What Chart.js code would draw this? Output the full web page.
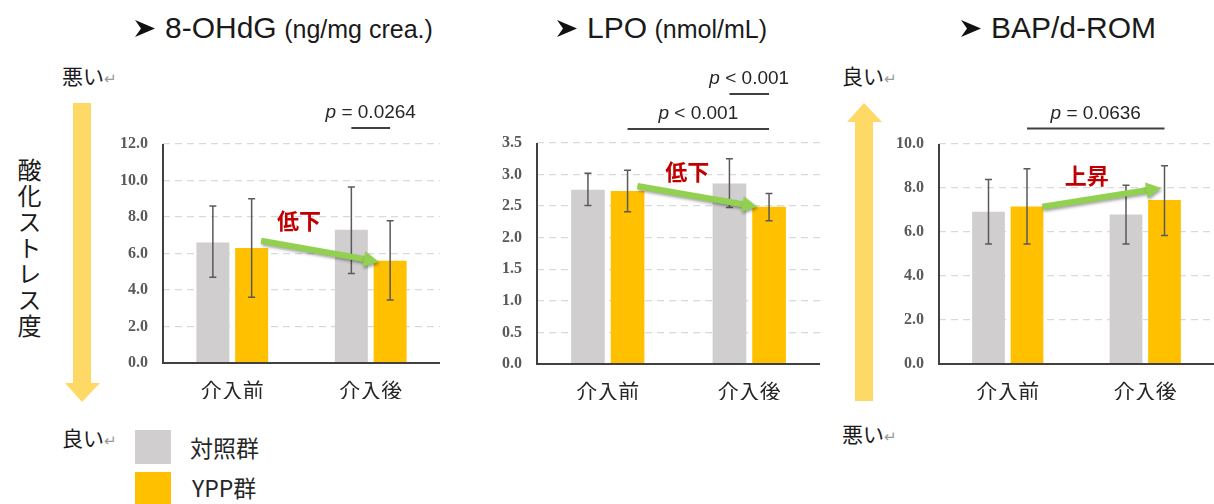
<!DOCTYPE html>
<html lang="ja">
<head>
<meta charset="utf-8">
<script src="https://cdn.jsdelivr.net/npm/chart.js@4.4.1/dist/chart.umd.min.js"></script>
<style>
  body { margin: 0; width: 1214px; height: 504px; overflow: hidden; background: #fff; position: relative;
         font-family: "Noto Sans CJK JP", "Noto Sans", sans-serif; color: #1a1a1a; }
  canvas { position: absolute; }
  .abs { position: absolute; white-space: nowrap; }
  .title { font-family: "Liberation Sans", Arial, sans-serif; line-height: 34px; }
  .title svg { margin-right: 10px; vertical-align: 1px; }
  .title .big { font-size: 30px; }
  .title .small { font-size: 25px; margin-left: 3px; }
  .lab { font-size: 21px; line-height: 28px; }
  .lab .ret { color: #9a9a9a; font-size: 15px; }
  .sw { position: absolute; width: 36px; height: 34px; }
  .leg { font-size: 23px; line-height: 30px; color: #262626; }
</style>
</head>
<body>

<div class="abs title" style="left:135px;top:11px"><svg width="20" height="17" viewBox="0 0 20 17"><polygon points="0,0 20,8.5 0,17 6,8.5" fill="#111"/></svg><span class="big">8-OHdG</span> <span class="small">(ng/mg crea.)</span></div>
<div class="abs title" style="left:557px;top:11px"><svg width="20" height="17" viewBox="0 0 20 17"><polygon points="0,0 20,8.5 0,17 6,8.5" fill="#111"/></svg><span class="big">LPO</span> <span class="small">(nmol/mL)</span></div>
<div class="abs title" style="left:961px;top:11px"><svg width="20" height="17" viewBox="0 0 20 17"><polygon points="0,0 20,8.5 0,17 6,8.5" fill="#111"/></svg><span class="big">BAP/d-ROM</span></div>

<div class="abs lab" style="left:62px;top:61px">悪い<span class="ret">↵</span></div>
<div class="abs lab" style="left:62px;top:423px">良い<span class="ret">↵</span></div>
<div class="abs lab" style="left:842px;top:61px">良い<span class="ret">↵</span></div>
<div class="abs lab" style="left:842px;top:419px">悪い<span class="ret">↵</span></div>
<div class="abs" style="left:12px;top:158px;writing-mode:vertical-rl;font-size:24px;letter-spacing:2px;">酸化ストレス度</div>

<svg class="abs" style="left:0;top:0" width="1214" height="504">
  <polygon points="73,103 91,103 91,383 100,383 82,402 65,383 73,383" fill="#FFD966"/>
  <polygon points="864,103 882,122 873,122 873,401 855,401 855,122 847,122" fill="#FFD966"/>
</svg>

<div class="sw" id="sw0" style="left:135px;top:430px"></div>
<div class="sw" id="sw1" style="left:135px;top:472px"></div>
<div class="abs leg" id="leg0" style="left:190px;top:432px"></div>
<div class="abs leg" id="leg1" style="left:192px;top:472px"></div>

<canvas id="c1" width="340" height="339" style="left:100px;top:60px"></canvas>
<canvas id="c2" width="340" height="340" style="left:480px;top:60px"></canvas>
<canvas id="c3" width="334" height="340" style="left:880px;top:60px"></canvas>

<script>
// データ
const categories = ['介入前', '介入後'];
const seriesNames = ['対照群', 'YPP群'];
const colors = ['#D0CECE', '#FFC000'];

// 8-OHdG (ng/mg crea.)
const ohdgCtrl = [6.6, 7.3];
const ohdgCtrlHi = [8.6, 9.65];
const ohdgCtrlLo = [4.7, 4.9];
const ohdgYpp = [6.3, 5.6];
const ohdgYppHi = [9.0, 7.8];
const ohdgYppLo = [3.6, 3.45];
const ohdgTicks = [0, 12, 2];

// LPO (nmol/mL)
const lpoCtrl = [2.76, 2.86];
const lpoCtrlHi = [3.02, 3.25];
const lpoCtrlLo = [2.51, 2.48];
const lpoYpp = [2.74, 2.49];
const lpoYppHi = [3.07, 2.70];
const lpoYppLo = [2.41, 2.27];
const lpoTicks = [0, 3.5, 0.5];

// BAP/d-ROM
const bapCtrl = [6.92, 6.8];
const bapCtrlHi = [8.39, 8.13];
const bapCtrlLo = [5.45, 5.46];
const bapYpp = [7.16, 7.45];
const bapYppHi = [8.88, 9.01];
const bapYppLo = [5.46, 5.84];
const bapTicks = [0, 10, 2];

// 凡例
seriesNames.forEach((n, i) => {
  document.getElementById('sw' + i).style.background = colors[i];
  document.getElementById('leg' + i).textContent = n;
});

// エラーバー・矢印・p値
const overlay = {
  id: 'overlay',
  afterDatasetsDraw(chart, args, o) {
    const ctx = chart.ctx, y = chart.scales.y, area = chart.chartArea;
    ctx.save();
    // 軸線
    ctx.strokeStyle = '#404040';
    ctx.lineWidth = 2;
    ctx.beginPath();
    ctx.moveTo(area.left, area.top); ctx.lineTo(area.left, area.bottom); ctx.lineTo(area.right, area.bottom);
    ctx.stroke();
    // エラーバー
    ctx.strokeStyle = '#595959';
    ctx.lineWidth = 1.5;
    chart.data.datasets.forEach((ds, i) => {
      chart.getDatasetMeta(i).data.forEach((bar, j) => {
        const t = y.getPixelForValue(ds.errHi[j]), b = y.getPixelForValue(ds.errLo[j]);
        ctx.beginPath();
        ctx.moveTo(bar.x, t); ctx.lineTo(bar.x, b);
        ctx.moveTo(bar.x - 3.5, t); ctx.lineTo(bar.x + 3.5, t);
        ctx.moveTo(bar.x - 3.5, b); ctx.lineTo(bar.x + 3.5, b);
        ctx.stroke();
      });
    });
    // 緑の矢印
    const ym = chart.getDatasetMeta(1).data;
    const x0 = ym[0].x + ym[0].width / 2 + o.arrow.dx0, y0 = y.getPixelForValue(o.arrow.from);
    const x1 = ym[1].x - ym[1].width / 2 + o.arrow.dx1, y1 = y.getPixelForValue(o.arrow.to);
    const ang = Math.atan2(y1 - y0, x1 - x0);
    const hl = 15, hw = 8;
    const bx = x1 - hl * Math.cos(ang), by = y1 - hl * Math.sin(ang);
    ctx.shadowColor = 'rgba(0,0,0,0.35)';
    ctx.shadowBlur = 3; ctx.shadowOffsetX = 1; ctx.shadowOffsetY = 2;
    ctx.strokeStyle = '#92D050'; ctx.fillStyle = '#92D050';
    ctx.lineWidth = 6;
    ctx.beginPath(); ctx.moveTo(x0, y0); ctx.lineTo(bx, by); ctx.stroke();
    ctx.beginPath();
    ctx.moveTo(x1, y1);
    ctx.lineTo(bx + hw * Math.sin(ang), by - hw * Math.cos(ang));
    ctx.lineTo(bx - hw * Math.sin(ang), by + hw * Math.cos(ang));
    ctx.closePath(); ctx.fill();
    ctx.shadowColor = 'transparent';
    // 低下 / 上昇
    ctx.fillStyle = '#C00000';
    ctx.font = 'bold 22px "Noto Sans CJK JP"';
    ctx.textAlign = 'center'; ctx.textBaseline = 'middle';
    ctx.fillText(o.arrow.label, (x0 + x1) / 2 + o.arrow.lx, (y0 + y1) / 2 + o.arrow.ly);
    // p値のブラケット
    o.brackets.forEach(br => {
      const a = chart.getDatasetMeta(br.from[0]).data[br.from[1]].x;
      const b = chart.getDatasetMeta(br.to[0]).data[br.to[1]].x;
      const ly = area.top - br.up;
      ctx.strokeStyle = '#404040'; ctx.lineWidth = 2;
      ctx.beginPath(); ctx.moveTo(a, ly); ctx.lineTo(b, ly); ctx.stroke();
      ctx.fillStyle = '#262626';
      ctx.textBaseline = 'middle'; ctx.textAlign = 'left';
      ctx.font = 'italic 19px "Liberation Sans"';
      const wp = ctx.measureText('p').width;
      ctx.font = '19px "Liberation Sans"';
      const wr = ctx.measureText(br.text).width;
      const sx = (a + b) / 2 - (wp + wr) / 2, ty = ly - 15;
      ctx.font = 'italic 19px "Liberation Sans"';
      ctx.fillText('p', sx, ty);
      ctx.font = '19px "Liberation Sans"';
      ctx.fillText(br.text, sx + wp, ty);
    });
    ctx.restore();
  }
};

function makeChart(id, ctrl, ctrlHi, ctrlLo, ypp, yppHi, yppLo, ticks, yWidth, padTop, arrow, brackets) {
  return new Chart(document.getElementById(id), {
    type: 'bar',
    data: {
      labels: categories,
      datasets: [
        { label: seriesNames[0], data: ctrl, errHi: ctrlHi, errLo: ctrlLo, backgroundColor: colors[0] },
        { label: seriesNames[1], data: ypp, errHi: yppHi, errLo: yppLo, backgroundColor: colors[1] }
      ]
    },
    options: {
      responsive: false,
      animation: false,
      layout: { padding: { top: padTop, right: 0, left: 0, bottom: 0 } },
      categoryPercentage: 0.56,
      barPercentage: 0.85,
      plugins: { legend: { display: false }, tooltip: { enabled: false }, overlay: { arrow, brackets } },
      scales: {
        x: {
          grid: { display: false },
          border: { display: false },
          ticks: { color: '#262626', padding: 6, font: { family: '"Noto Sans CJK JP"', size: 21 } },
          afterFit: s => { s.height = 36; }
        },
        y: {
          min: ticks[0], max: ticks[1],
          grid: { color: '#D9D9D9', lineWidth: 1.3, drawTicks: false },
          border: { display: false, dash: [7, 5] },
          ticks: {
            stepSize: ticks[2], padding: 15, color: '#595959',
            font: { family: '"Liberation Serif"', size: 16, weight: 'bold' },
            callback: v => v.toFixed(1)
          },
          afterFit: s => { s.width = yWidth; }
        }
      }
    },
    plugins: [overlay]
  });
}

makeChart('c1', ohdgCtrl, ohdgCtrlHi, ohdgCtrlLo, ohdgYpp, ohdgYppHi, ohdgYppLo, ohdgTicks, 63, 84,
  { from: 6.7, to: 5.55, dx0: -7, dx1: 5, label: '低下', lx: -21, ly: -31 },
  [{ from: [0, 1], to: [1, 1], up: 16, text: ' = 0.0264' }]);

makeChart('c2', lpoCtrl, lpoCtrlHi, lpoCtrlLo, lpoYpp, lpoYppHi, lpoYppLo, lpoTicks, 57, 83,
  { from: 2.82, to: 2.49, dx0: -7, dx1: 5, label: '低下', lx: -10, ly: -25 },
  [{ from: [0, 1], to: [1, 1], up: 49, text: ' < 0.001' },
   { from: [1, 0], to: [1, 1], up: 14, text: ' < 0.001' }]);

makeChart('c3', bapCtrl, bapCtrlHi, bapCtrlLo, bapYpp, bapYppHi, bapYppLo, bapTicks, 59, 84,
  { from: 7.15, to: 8.0, dx0: -1, dx1: 13, label: '上昇', lx: -15, ly: -22 },
  [{ from: [1, 0], to: [1, 1], up: 15.5, text: ' = 0.0636' }]);
</script>
</body>
</html>
